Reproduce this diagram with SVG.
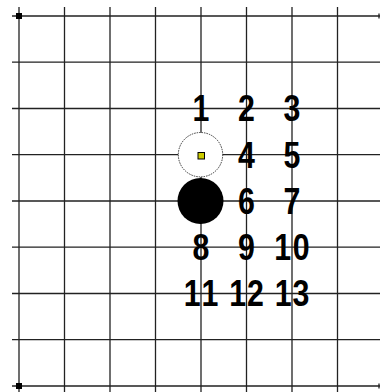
<svg xmlns="http://www.w3.org/2000/svg" width="380" height="392" viewBox="0 0 380 392">
<style>
.g{stroke:#222;stroke-width:1.3;fill:none}
.n{font-family:"Liberation Sans",Arial,sans-serif;font-weight:bold;font-size:37px;fill:#000;text-anchor:middle}
</style>
<rect width="380" height="392" fill="#fff"/>
<g id="connectors">
<g class="g">
<path d="M19 7V392M64.5 7V392M110 7V392M155.5 7V392M201 7V392M246.5 7V392M292 7V392M337.5 7V392"/>
<path d="M12 16H380M12 62.2H380M12 108.5H380M12 154.7H380M12 201H380M12 247.2H380M12 293.5H380M12 339.7H380M12 386H380"/>
<path d="M379 13.5V18.5M379 383.5V388.5"/>
</g>
<rect x="16" y="13" width="6" height="6" fill="#000"/>
<rect x="16" y="383" width="6" height="6" fill="#000"/>
</g>
<g id="stone-white">
<circle cx="200.5" cy="154.7" r="22.2" fill="#fff" stroke="#222" stroke-width="0.9" stroke-dasharray="1.5 1"/>
<rect x="198" y="152.5" width="6.5" height="6.5" fill="#cccc00" stroke="#000" stroke-width="1"/>
</g>
<g id="stone-black">
<circle cx="200.5" cy="201" r="23" fill="#000"/>
</g>
<g id="labels" transform="scale(0.82,1)">
<text class="n" x="245.1" y="121.5">1</text>
<text class="n" x="300.6" y="121.5">2</text>
<text class="n" x="356.1" y="121.5">3</text>
<text class="n" x="300.6" y="167.7">4</text>
<text class="n" x="356.1" y="167.7">5</text>
<text class="n" x="300.6" y="214">6</text>
<text class="n" x="356.1" y="214">7</text>
<text class="n" x="245.1" y="260.2">8</text>
<text class="n" x="300.6" y="260.2">9</text>
<text class="n" x="356.1" y="260.2">1<tspan dx="2">0</tspan></text>
<text class="n" x="245.1" y="306.5">1<tspan dx="1">1</tspan></text>
<text class="n" x="300.6" y="306.5">1<tspan dx="1">2</tspan></text>
<text class="n" x="356.1" y="306.5">1<tspan dx="1">3</tspan></text>
</g>
</svg>
